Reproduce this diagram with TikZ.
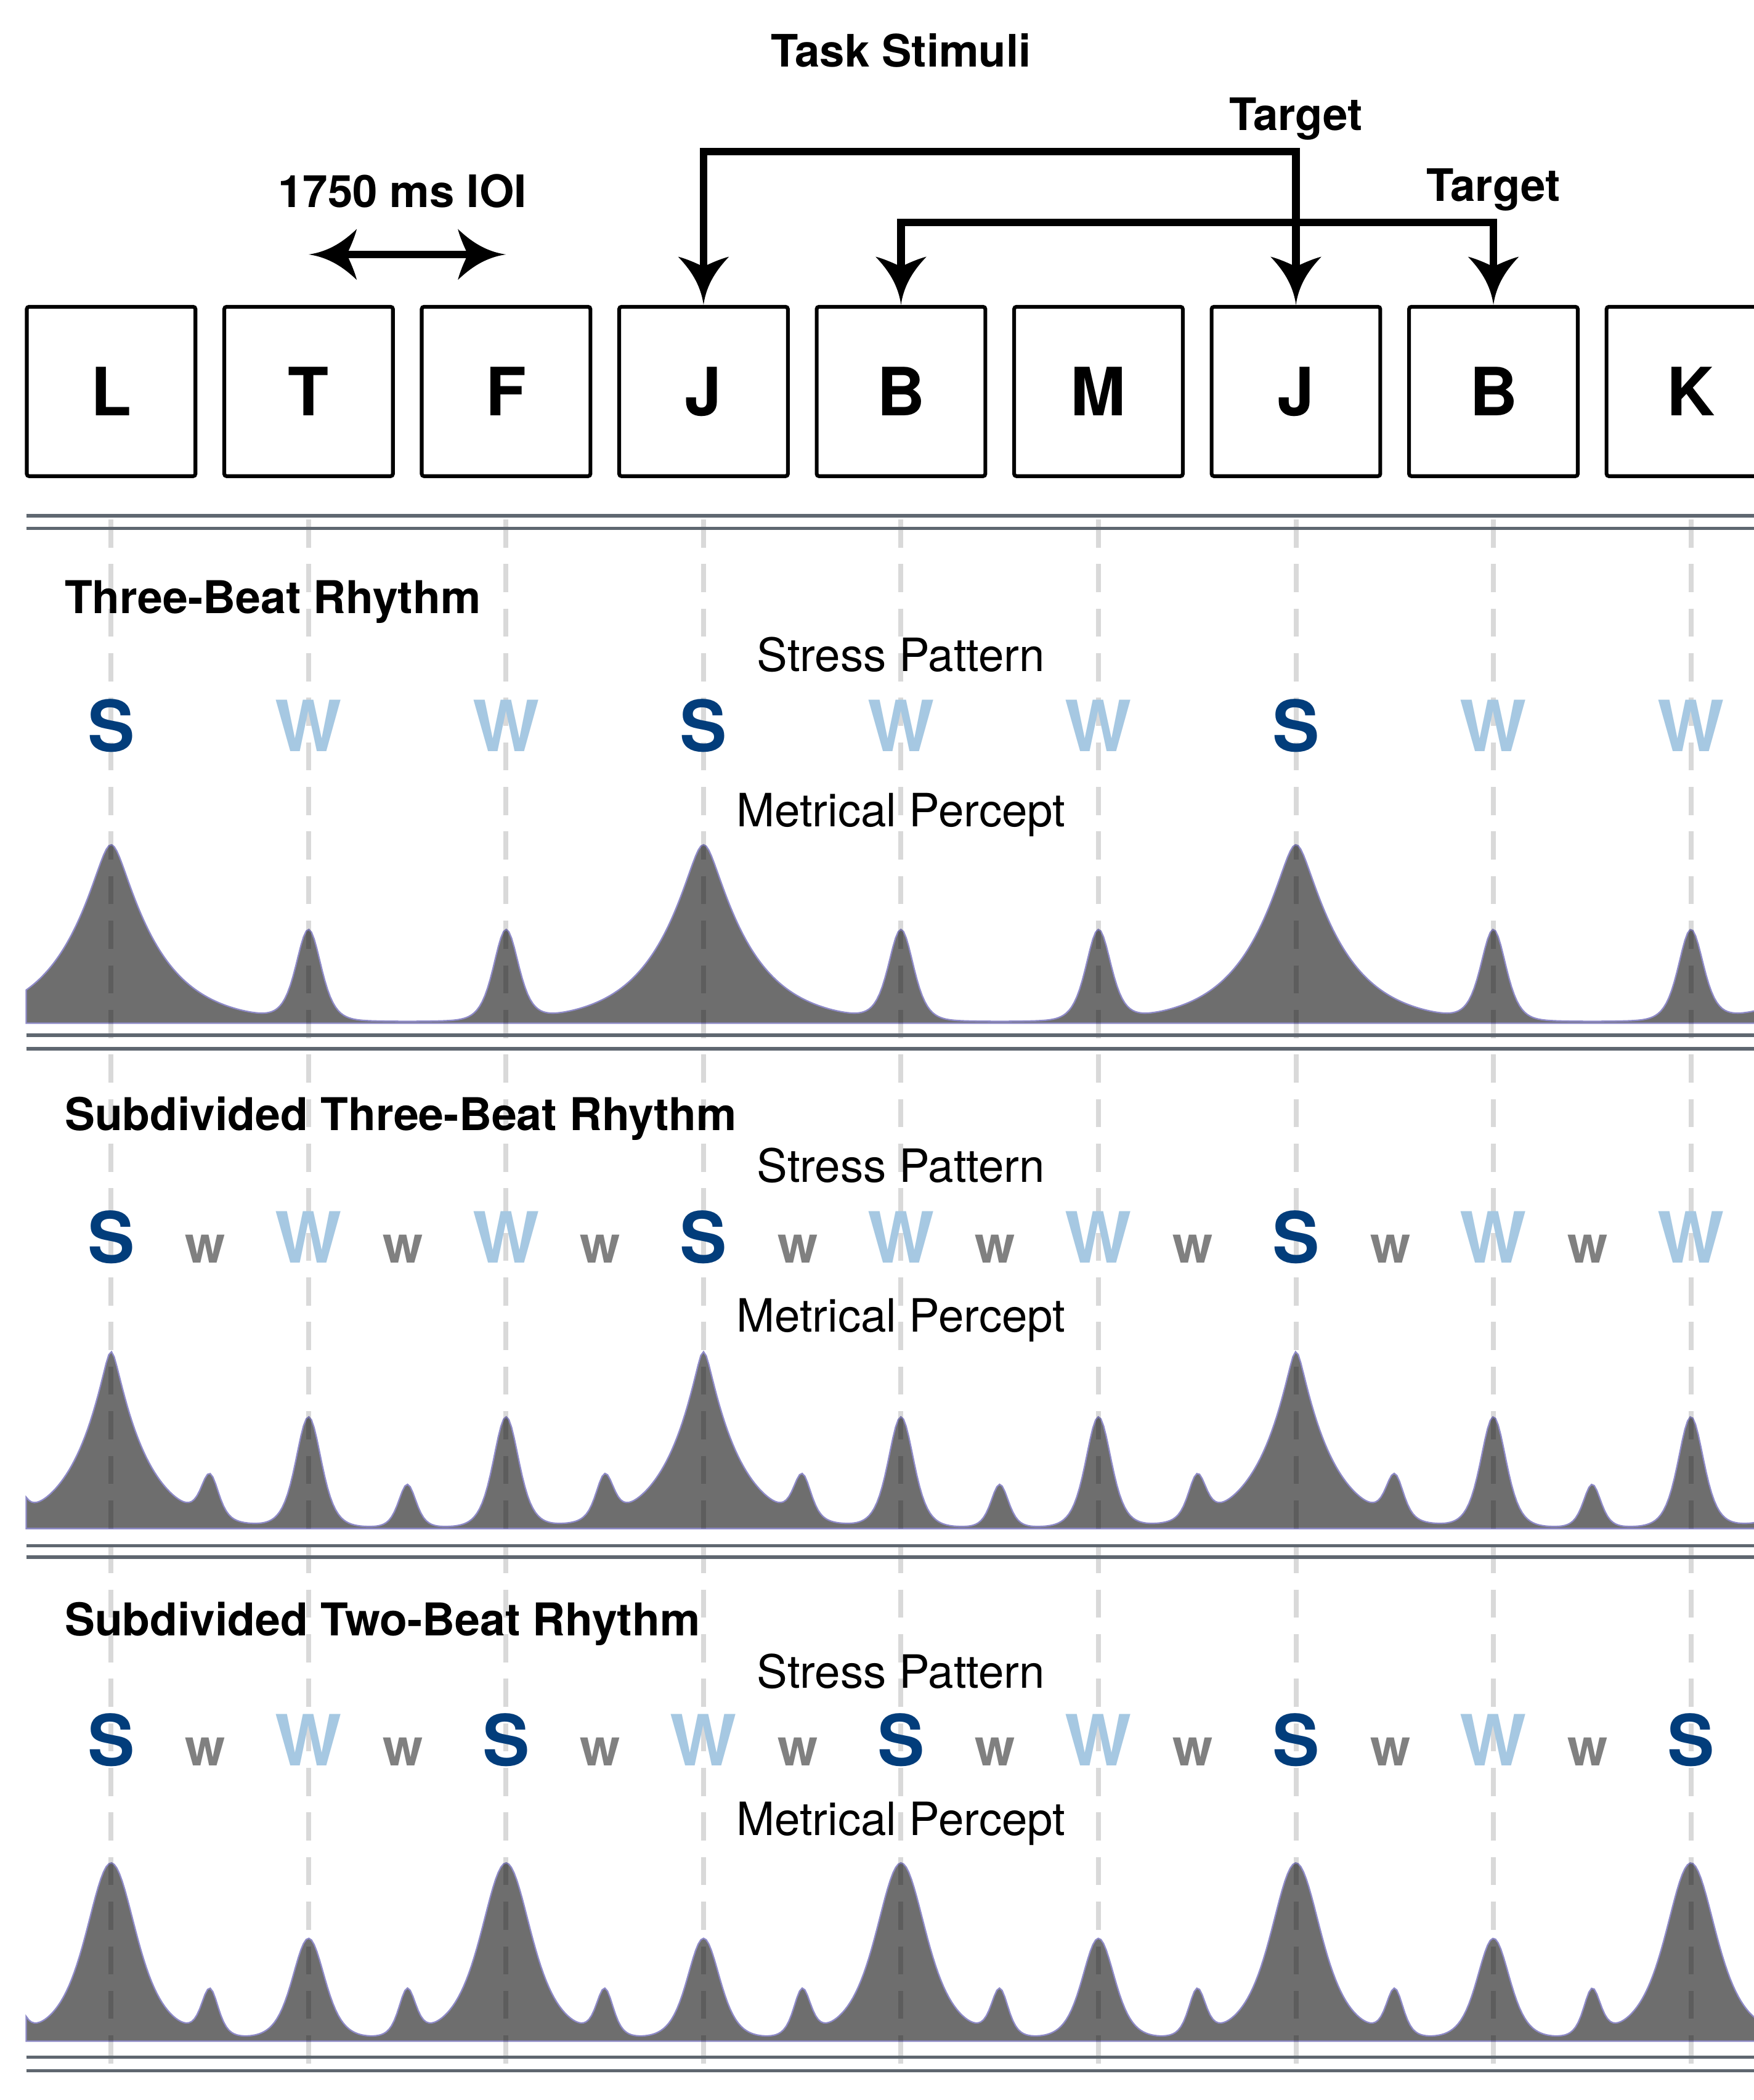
\documentclass[tikz,border=0pt]{standalone}
\usepackage{fontspec}
\setmainfont{TeX Gyre Heros}
\usetikzlibrary{arrows.meta}

\definecolor{strongblue}{HTML}{023D7B}
\definecolor{weakblue}{HTML}{A6C8E2}
\definecolor{offbeat}{HTML}{808080}
\definecolor{perceptfill}{HTML}{6E6E6E}
\definecolor{perceptedge}{HTML}{8E8AC8}
\definecolor{rulegray}{HTML}{5F6770}

% flared arrow head with concave sides
\pgfdeclarearrow{
  name=Flare,
  setup code={
    \pgfarrowssettipend{0pt}
    \pgfarrowssetlineend{-5.2mm}
    \pgfarrowssetbackend{-7.2mm}
    \pgfarrowshullpoint{0pt}{0pt}
    \pgfarrowsupperhullpoint{-7.2mm}{3.8mm}
  },
  drawing code={
    \pgfpathmoveto{\pgfqpoint{0pt}{0pt}}
    \pgfpathcurveto{\pgfpoint{-3.2mm}{0.45mm}}{\pgfpoint{-5.4mm}{2.1mm}}{\pgfpoint{-7.2mm}{3.8mm}}
    \pgfpathcurveto{\pgfpoint{-6.9mm}{2.6mm}}{\pgfpoint{-6.2mm}{1.0mm}}{\pgfpoint{-5.7mm}{0pt}}
    \pgfpathcurveto{\pgfpoint{-6.2mm}{-1.0mm}}{\pgfpoint{-6.9mm}{-2.6mm}}{\pgfpoint{-7.2mm}{-3.8mm}}
    \pgfpathcurveto{\pgfpoint{-5.4mm}{-2.1mm}}{\pgfpoint{-3.2mm}{-0.45mm}}{\pgfpoint{0pt}{0pt}}
    \pgfpathclose
    \pgfusepathqfill
  }
}

% peak shapes (distance in beats, height, width)
\pgfmathdeclarefunction{lap}{4}{\pgfmathparse{#2*exp(-min((sqrt((#1)*(#1)+(#4)*(#4))-#4)/#3,12))}}
\pgfmathdeclarefunction{bell}{3}{%
  \pgfmathsetmacro\bellsech{1/cosh(min(abs(#1)/#3,9))}%
  \pgfmathparse{#2*\bellsech*\bellsech}}
\pgfmathdeclarefunction{hump}{3}{%
  \pgfmathsetmacro\humpu{min(abs(#1)/#3,100)}%
  \pgfmathsetmacro\humpv{1/(1+\humpu*\humpu)}%
  \pgfmathparse{#2*\humpv*\humpv}}

% metrical percepts, folded on the bar
\pgfmathdeclarefunction{meterA}{1}{%
  \pgfmathsetmacro\meterd{#1-3*round(#1/3)}%
  \pgfmathparse{1.2+lap(\meterd,132,0.224,0.047)+bell(\meterd-1,67,0.0847)+bell(\meterd+1,67,0.0847)}}
\pgfmathdeclarefunction{meterB}{1}{%
  \pgfmathsetmacro\meterd{#1-3*round(#1/3)}%
  \pgfmathparse{1+lap(\meterd,131,0.1729,0.02)+bell(\meterd-1,82,0.0868)+bell(\meterd+1,82,0.0868)
    +bell(\meterd-0.5,32,0.0597)+bell(\meterd+0.5,32,0.0597)+bell(\meterd-1.5,32,0.0597)+bell(\meterd+1.5,32,0.0597)}}
\pgfmathdeclarefunction{meterC}{1}{%
  \pgfmathsetmacro\meterd{#1-2*round(#1/2)}%
  \pgfmathparse{1+hump(\meterd,132,0.2373)+hump(\meterd-2,132,0.2373)+hump(\meterd+2,132,0.2373)
    +bell(\meterd-1,75,0.1105)+bell(\meterd+1,75,0.1105)
    +bell(\meterd-0.5,34,0.0576)+bell(\meterd+0.5,34,0.0576)+bell(\meterd-1.5,34,0.0576)+bell(\meterd+1.5,34,0.0576)}}

\tikzset{
  letterbox/.style={draw, line width=1.6pt, rounded corners=1pt, minimum width=2.52cm,
    minimum height=2.53cm, inner sep=0pt, font=\fontsize{28.3}{30}\selectfont\bfseries},
  pointer/.style={<->, line width=3.2pt},
  hdr/.style={anchor=base, inner sep=0pt, font=\fontsize{19}{22}\selectfont\bfseries},
  rtitle/.style={anchor=base west, inner sep=0pt, font=\fontsize{19.2}{22}\selectfont\bfseries},
  lbl/.style={anchor=base, inner sep=0pt, font=\fontsize{19.5}{22}\selectfont},
  meterS/.style={anchor=base, inner sep=0pt, text=strongblue, font=\fontsize{30}{32}\selectfont\bfseries},
  meterW/.style={anchor=base, inner sep=0pt, text=weakblue, font=\fontsize{30}{32}\selectfont\bfseries},
  meterw/.style={anchor=base, inner sep=0pt, text=offbeat, font=\fontsize{22}{24}\selectfont\bfseries},
  percept/.style={fill=perceptfill, draw=perceptedge, line width=0.6pt},
  beatline/.style={draw=black, draw opacity=0.15, line width=2.1pt, dash pattern=on 0.42cm off 0.246cm},
  rulepair/.style={draw=rulegray, line width=1.4pt}
}

\begin{document}
\begin{tikzpicture}[x=2.95cm, y=-0.02cm, >=Flare]
  \useasboundingbox (-0.5627,0) rectangle (8.3186,1568);

  % percept curves
  \filldraw[percept] (-0.43,764) -- plot[domain=-0.43:8.34, samples=650] (\x,{764-meterA(\x)}) -- (8.34,764) -- cycle;
  \filldraw[percept] (-0.43,1141.3) -- plot[domain=-0.43:8.34, samples=650] (\x,{1141.3-meterB(\x)}) -- (8.34,1141.3) -- cycle;
  \filldraw[percept] (-0.43,1524) -- plot[domain=-0.43:8.34, samples=650] (\x,{1524-meterC(\x)}) -- (8.34,1524) -- cycle;

  % beat grid and section rules
  \foreach \i in {0,...,8}
    \draw[beatline] (\i,387.8) -- (\i,1541);
  \foreach \y in {385.1,394.4,773,783,1154,1162.7,1536,1546}
    \draw[rulepair] (-0.43,\y) -- (8.34,\y);

  % task stimuli
  \node[hdr] (task) at (4,50) {Task Stimuli};
  \foreach \l [count=\i from 0] in {L,T,F,J,B,M,J,B,K}
    \node[letterbox] (box\i) at (\i,292.3) {\l};
  \node[hdr] (ioi) at (1.475,154.9) {1750 ms IOI};
  \coordinate (ioiL) at (1,190);
  \coordinate (ioiR) at (2,190);
  \draw[pointer] (ioiL) -- (ioiR);
  \coordinate (bendA) at (6,113.3);
  \coordinate (bendB) at (7,166);
  \node[hdr] (tgtA) at (6,97.4) {Target};
  \node[hdr] (tgtB) at (7,150.2) {Target};
  \draw[pointer] (box3.north) |- (bendA) -- (box6.north);
  \draw[pointer] (box4.north) |- (bendB) -- (box7.north);

  % three-beat
  \node[rtitle] (titleA) at (-0.237,458) {Three-Beat Rhythm};
  \node[lbl] (stressA) at (4,501.4) {Stress Pattern};
  \foreach \m [count=\i from 0] in {S,W,W,S,W,W,S,W,W}
    \node[meter\m] (beatA\i) at (\i,561) {\m};
  \node[lbl] (perceptA) at (4,617) {Metrical Percept};

  % subdivided three-beat
  \node[rtitle] (titleB) at (-0.237,844) {Subdivided Three-Beat Rhythm};
  \node[lbl] (stressB) at (4,882.5) {Stress Pattern};
  \foreach \m [count=\i from 0] in {S,W,W,S,W,W,S,W,W}
    \node[meter\m] (beatB\i) at (\i,943) {\m};
  \foreach \i in {0,...,7}
    \node[meterw] (subB\i) at (\i+0.478,943) {w};
  \node[lbl] (perceptB) at (4,994.7) {Metrical Percept};

  % subdivided two-beat
  \node[rtitle] (titleC) at (-0.237,1221.5) {Subdivided Two-Beat Rhythm};
  \node[lbl] (stressC) at (4,1260.4) {Stress Pattern};
  \foreach \m [count=\i from 0] in {S,W,S,W,S,W,S,W,S}
    \node[meter\m] (beatC\i) at (\i,1318.4) {\m};
  \foreach \i in {0,...,7}
    \node[meterw] (subC\i) at (\i+0.478,1318.4) {w};
  \node[lbl] (perceptC) at (4,1370.4) {Metrical Percept};
\end{tikzpicture}
\end{document}
